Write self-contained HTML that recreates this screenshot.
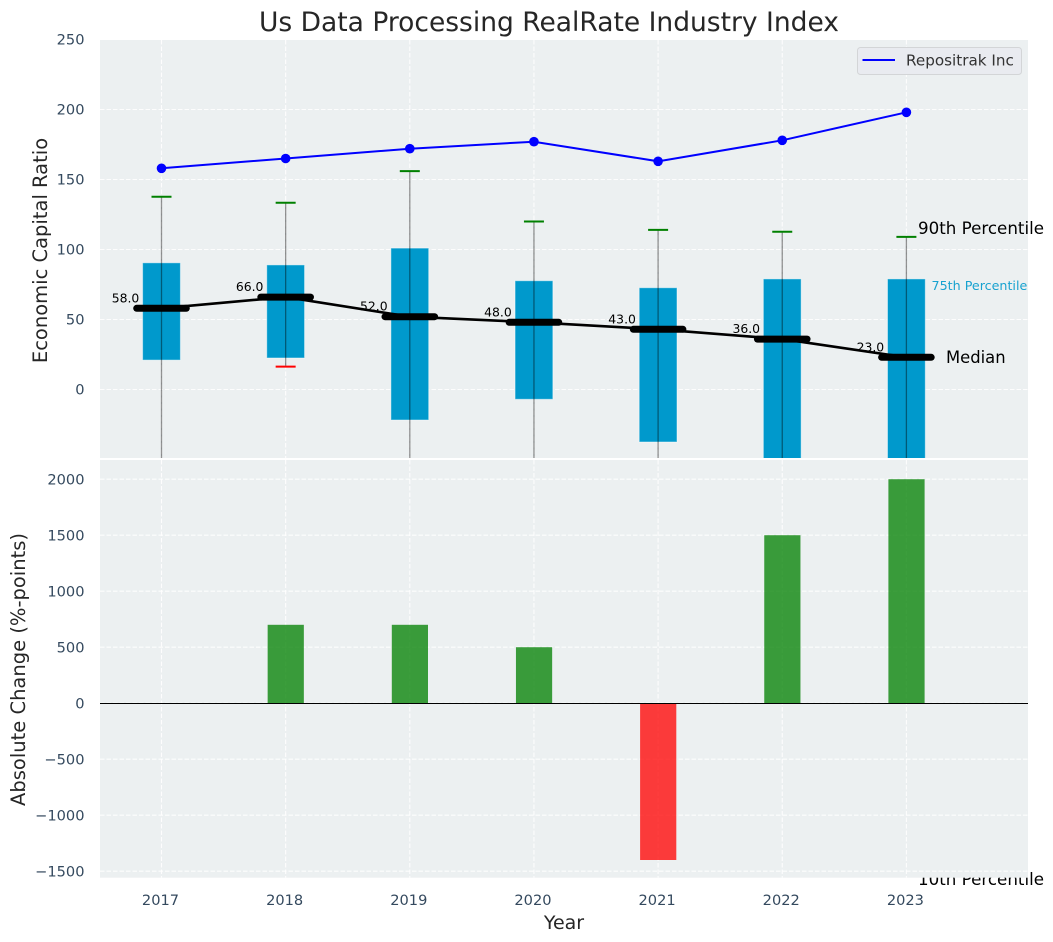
<!DOCTYPE html>
<html lang="en">
<head>
<meta charset="utf-8">
<title>Us Data Processing RealRate Industry Index</title>
<style>
html,body{margin:0;padding:0;background:#fff;width:1053px;height:942px;overflow:hidden}
svg{display:block;font-family:"DejaVu Sans","Liberation Sans",sans-serif}
</style>
</head>
<body>
<svg id="chart" width="1053" height="942" viewBox="0 0 1053 942" xmlns="http://www.w3.org/2000/svg"></svg>
<script>
const years = [2017, 2018, 2019, 2020, 2021, 2022, 2023];
const companyValues = [158, 165, 172, 177, 163, 178, 198];
const p90Values = [137.7, 133.4, 156, 120, 114, 112.7, 109];
const p75Values = [90.5, 89, 101, 77.7, 72.7, 79, 79];
const medianValues = [58, 66, 52, 48, 43, 36, 23];
const p25Values = [21, 22.5, -21.8, -7, -37.5, -60, -60];
const p10Values = [-70, 16.3, -90, -80, -90, -85, -85];
const changeValues = [0, 700, 700, 500, -1400, 1500, 2000];
const topTicks = [0, 50, 100, 150, 200, 250];
const bottomTicks = [-1500, -1000, -500, 0, 500, 1000, 1500, 2000];

const NS = 'http://www.w3.org/2000/svg';
const svg = document.getElementById('chart');
const xScale = function (year) { return 161.5 + 124.15 * (year - 2017); };
const yTop = function (v) { return 389.5 - 1.4 * v; };
const yBottom = function (v) { return 703.2 - 0.112 * v; };
const tickColor = '#34495e';
const textColor = '#262626';

function mk(tag, attrs, parent, text) {
  const el = document.createElementNS(NS, tag);
  for (const k in attrs) el.setAttribute(k, attrs[k]);
  if (text !== undefined) el.textContent = text;
  (parent || svg).appendChild(el);
  return el;
}
function fmtTick(v) { return String(v).replace('-', '\u2212'); }

const defs = mk('defs', {});
const clip = mk('clipPath', { id: 'top-clip' }, defs);
mk('rect', { x: 100, y: 40, width: 928, height: 418 }, clip);

const title = mk('text', { x: 549, y: 31, 'text-anchor': 'middle', 'font-size': 26.5, fill: textColor }, svg, 'Us Data Processing RealRate Industry Index');



/* label partly hidden beneath the lower axes */
const p10Label = mk('text', { x: 918, y: 885, 'font-size': 16.7, fill: '#000' }, svg, '10th Percentile');



/* ---------- top axes ---------- */
const topAxes = mk('g', {});


const topBg = mk('rect', { x: 100, y: 40, width: 928, height: 418, fill: '#ecf0f1' }, topAxes);



topTicks.forEach(function (t) {
  const y = yTop(t);
  const g = mk('line', { x1: 100, x2: 1028, y1: y, y2: y, stroke: '#fff', 'stroke-width': 1.1, 'stroke-dasharray': '4.5 2', opacity: 0.9 }, topAxes);
  
  
  const l = mk('text', { x: 84.5, y: y + 5.2, 'text-anchor': 'end', 'font-size': 14.6, fill: tickColor }, topAxes, fmtTick(t));
  
  
});
years.forEach(function (yr) {
  const x = xScale(yr);
  const g = mk('line', { x1: x, x2: x, y1: 40, y2: 458, stroke: '#fff', 'stroke-width': 1.1, 'stroke-dasharray': '4.5 2', opacity: 0.9 }, topAxes);
  
  
});

const clipped = mk('g', { 'clip-path': 'url(#top-clip)' }, topAxes);
years.forEach(function (yr, i) {
  const x = xScale(yr);
  const yT = yTop(p75Values[i]);
  const yB = yTop(p25Values[i]);
  const box = mk('rect', { x: x - 18.9, y: yT, width: 37.8, height: yB - yT, fill: '#0099cc', stroke: '#fff', 'stroke-opacity': 0.45, 'stroke-width': 1 }, clipped);
  
  
});
years.forEach(function (yr, i) {
  const x = xScale(yr);
  const w = mk('line', { x1: x, x2: x, y1: yTop(p90Values[i]), y2: yTop(p10Values[i]), stroke: '#000', 'stroke-opacity': 0.42, 'stroke-width': 1.3 }, clipped);
  
  
  const capHi = mk('line', { x1: x - 10, x2: x + 10, y1: yTop(p90Values[i]), y2: yTop(p90Values[i]), stroke: '#008000', 'stroke-width': 2 }, clipped);
  
  
  const capLo = mk('line', { x1: x - 10, x2: x + 10, y1: yTop(p10Values[i]), y2: yTop(p10Values[i]), stroke: '#ff0000', 'stroke-width': 2 }, clipped);
  
  
});
years.forEach(function (yr, i) {
  const l = mk('text', { x: xScale(yr) - 22.2, y: yTop(medianValues[i]) - 6, 'text-anchor': 'end', 'font-size': 12.4, fill: '#000' }, topAxes, medianValues[i].toFixed(1));
  
  
});
const medianPath = mk('polyline', {
  points: years.map(function (yr, i) { return xScale(yr) + ',' + yTop(medianValues[i]); }).join(' '),
  fill: 'none', stroke: '#000', 'stroke-width': 2.6
}, topAxes);


years.forEach(function (yr, i) {
  const x = xScale(yr);
  const y = yTop(medianValues[i]);
  const m = mk('line', { x1: x - 24.8, x2: x + 24.8, y1: y, y2: y, stroke: '#000', 'stroke-width': 7, 'stroke-linecap': 'round' }, topAxes);
  
  
});
const companyLine = mk('polyline', {
  points: years.map(function (yr, i) { return xScale(yr) + ',' + yTop(companyValues[i]); }).join(' '),
  fill: 'none', stroke: '#0000ff', 'stroke-width': 2
}, topAxes);


years.forEach(function (yr, i) {
  const p = mk('circle', { cx: xScale(yr), cy: yTop(companyValues[i]), r: 4.8, fill: '#0000ff' }, topAxes);
  
  
});

const topTitle = mk('text', { transform: 'translate(47,250.5) rotate(-90)', 'text-anchor': 'middle', 'font-size': 19.5, fill: textColor }, svg, 'Economic Capital Ratio');



/* ---------- bottom axes ---------- */
const botAxes = mk('g', {});


const botBg = mk('rect', { x: 100, y: 460, width: 928, height: 417.7, fill: '#ecf0f1' }, botAxes);



bottomTicks.forEach(function (t) {
  const y = yBottom(t);
  const g = mk('line', { x1: 100, x2: 1028, y1: y, y2: y, stroke: '#fff', 'stroke-width': 1.1, 'stroke-dasharray': '4.5 2', opacity: 0.9 }, botAxes);
  
  
  const l = mk('text', { x: 84.5, y: y + 5.2, 'text-anchor': 'end', 'font-size': 14.6, fill: tickColor }, botAxes, fmtTick(t));
  
  
});
years.forEach(function (yr) {
  const x = xScale(yr);
  const g = mk('line', { x1: x, x2: x, y1: 460, y2: 877.7, stroke: '#fff', 'stroke-width': 1.1, 'stroke-dasharray': '4.5 2', opacity: 0.9 }, botAxes);
  
  
  const l = mk('text', { x: x - 1, y: 905, 'text-anchor': 'middle', 'font-size': 14.6, fill: tickColor }, botAxes, String(yr));
  
  
});
years.forEach(function (yr, i) {
  const v = changeValues[i];
  const y0 = yBottom(0);
  const y1 = yBottom(v);
  const bar = mk('rect', {
    x: xScale(yr) - 18, y: Math.min(y0, y1), width: 36.2, height: Math.abs(y1 - y0),
    fill: v >= 0 ? '#008000' : '#ff0000', 'fill-opacity': 0.76
  }, botAxes);
  
  
});
const zero = mk('line', { x1: 100, x2: 1028, y1: yBottom(0) + 0.3, y2: yBottom(0) + 0.3, stroke: '#000', 'stroke-width': 1.1 }, botAxes);



const botTitle = mk('text', { transform: 'translate(25,669.5) rotate(-90)', 'text-anchor': 'middle', 'font-size': 19.5, fill: textColor }, svg, 'Absolute Change (%-points)');


const xTitle = mk('text', { x: 564, y: 929, 'text-anchor': 'middle', 'font-size': 19, fill: textColor }, svg, 'Year');



/* ---------- annotations ---------- */
const p90Label = mk('text', { x: 918, y: 234, 'font-size': 16.7, fill: '#000' }, svg, '90th Percentile');


const p75Label = mk('text', { x: 931.5, y: 290, 'font-size': 12.7, fill: '#0099cc', 'fill-opacity': 0.9 }, svg, '75th Percentile');


const medLabel = mk('text', { x: 946, y: 363, 'font-size': 16.4, fill: '#000' }, svg, 'Median');



/* ---------- legend ---------- */
const legend = mk('g', {});


const legendBox = mk('rect', { x: 857.5, y: 47.5, width: 164, height: 27, rx: 3, ry: 3, fill: '#e9ebf0', stroke: '#d3d5d7', 'stroke-width': 1 }, legend);


const legendLine = mk('line', { x1: 862.5, x2: 895, y1: 60, y2: 60, stroke: '#0000ff', 'stroke-width': 2 }, legend);


const legendText = mk('text', { x: 906, y: 65.5, 'font-size': 15.2, fill: '#333' }, legend, 'Repositrak Inc');


</script>
</body>
</html>
